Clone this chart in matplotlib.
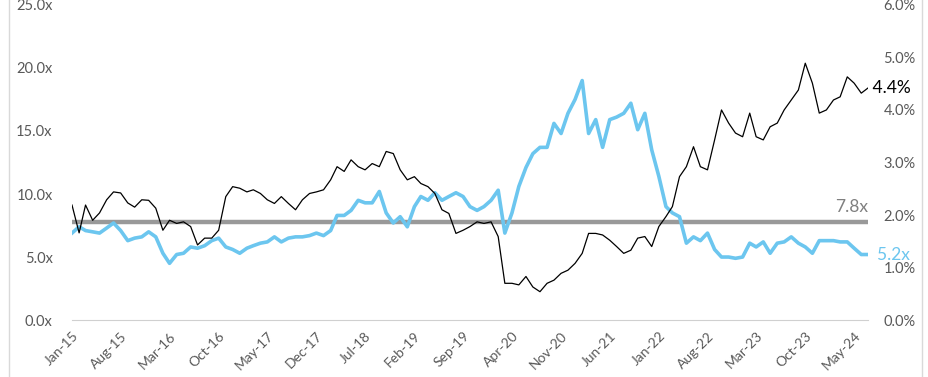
import matplotlib
matplotlib.use("Agg")
import matplotlib.pyplot as plt
from matplotlib.lines import Line2D
import pandas as pd

plt.rcParams['font.family'] = ['Lato', 'DejaVu Sans']

# monthly points, Jan-15 .. Jul-24
months = pd.date_range("2015-01-01", periods=115, freq="MS")

# light blue series, left axis (x multiple)
multiple = [
    6.9, 7.4, 7.1, 7.0, 6.9, 7.3, 7.7, 7.1, 6.3, 6.5, 6.6, 7.0,   # 2015
    6.6, 5.3, 4.5, 5.2, 5.3, 5.8, 5.7, 5.9, 6.3, 6.5, 5.8, 5.6,   # 2016
    5.3, 5.7, 5.9, 6.1, 6.2, 6.6, 6.2, 6.5, 6.6, 6.6, 6.7, 6.9,   # 2017
    6.7, 7.1, 8.3, 8.3, 8.7, 9.5, 9.3, 9.3, 10.2, 8.5, 7.7, 8.2,  # 2018
    7.4, 9.0, 9.8, 9.5, 10.1, 9.5, 9.8, 10.1, 9.8, 9.0, 8.7, 9.0, # 2019
    9.5, 10.3, 6.9, 8.5, 10.6, 12.1, 13.2, 13.7, 13.7, 15.6, 14.8, 16.4,  # 2020
    17.5, 19.0, 14.8, 15.9, 13.7, 15.9, 16.1, 16.4, 17.2, 15.1, 16.4, 13.5,  # 2021
    11.4, 9.0, 8.5, 8.2, 6.1, 6.6, 6.3, 6.9, 5.6, 5.0, 5.0, 4.9,  # 2022
    5.0, 6.1, 5.8, 6.2, 5.3, 6.1, 6.2, 6.6, 6.1, 5.8, 5.3, 6.3,   # 2023
    6.3, 6.3, 6.2, 6.2, 5.7, 5.2, 5.2,                            # 2024
]

# black series, right axis (%)
yield_pct = [
    2.19, 1.66, 2.19, 1.90, 2.04, 2.29, 2.44, 2.42, 2.23, 2.15, 2.29, 2.28,  # 2015
    2.13, 1.71, 1.90, 1.84, 1.87, 1.78, 1.43, 1.56, 1.56, 1.71, 2.35, 2.54,  # 2016
    2.51, 2.44, 2.48, 2.41, 2.29, 2.22, 2.35, 2.22, 2.10, 2.29, 2.41, 2.44,  # 2017
    2.48, 2.67, 2.92, 2.83, 3.05, 2.92, 2.86, 2.98, 2.92, 3.21, 3.17, 2.86,  # 2018
    2.67, 2.73, 2.60, 2.54, 2.41, 2.10, 2.03, 1.65, 1.71, 1.78, 1.87, 1.84,  # 2019
    1.87, 1.59, 0.70, 0.70, 0.67, 0.83, 0.63, 0.54, 0.70, 0.76, 0.89, 0.95,  # 2020
    1.08, 1.27, 1.65, 1.65, 1.62, 1.52, 1.40, 1.27, 1.33, 1.56, 1.59, 1.40,  # 2021
    1.78, 1.97, 2.16, 2.73, 2.92, 3.30, 2.92, 2.86, 3.43, 4.00, 3.75, 3.56,  # 2022
    3.49, 3.94, 3.49, 3.43, 3.68, 3.75, 4.00, 4.19, 4.38, 4.89, 4.51, 3.94,  # 2023
    4.00, 4.19, 4.25, 4.63, 4.51, 4.32, 4.42,                                # 2024
]

average_multiple = 7.8

tick_labels = ["Jan-15", "Aug-15", "Mar-16", "Oct-16", "May-17", "Dec-17",
               "Jul-18", "Feb-19", "Sep-19", "Apr-20", "Nov-20", "Jun-21",
               "Jan-22", "Aug-22", "Mar-23", "Oct-23", "May-24"]

blue = "#6cc6ef"
grey_txt = "#595959"

fig = plt.figure(figsize=(9.29, 3.77), dpi=100)
ax = fig.add_axes([0.0775, 0.151, 0.857, 0.836])
ax2 = ax.twinx()

ax.plot(months, [average_multiple] * len(months), color="#999999", lw=3.2, zorder=1)
ax.plot(months, multiple, color=blue, lw=2.6, zorder=2)
ax2.plot(months, yield_pct, color="black", lw=0.9, zorder=3)

ax.set_ylim(0, 25)
ax2.set_ylim(0, 6)
ax.set_xlim(months[0], months[-1])
ax.set_yticks([0, 5, 10, 15, 20, 25])
ax.set_yticklabels([f"{v:.1f}x" for v in [0, 5, 10, 15, 20, 25]])
ax2.set_yticks([0, 1, 2, 3, 4, 5, 6])
ax2.set_yticklabels([f"{v:.1f}%" for v in [0, 1, 2, 3, 4, 5, 6]])

tick_pos = [pd.to_datetime(t, format="%b-%y") for t in tick_labels]
ax.set_xticks(tick_pos)
ax.set_xticklabels(tick_labels, rotation=45, ha="right", rotation_mode="anchor")

for a in (ax, ax2):
    for s in a.spines.values():
        s.set_visible(False)
    a.tick_params(length=0, labelsize=10.5, colors=grey_txt)
ax.tick_params(axis="y", pad=14)
ax2.tick_params(axis="y", pad=11)
ax.tick_params(axis="x", pad=7, labelsize=10)
ax.spines["bottom"].set_visible(True)
ax.spines["bottom"].set_color("#d0d0d0")

ax.text(months[-1], average_multiple + 0.5, f"{average_multiple}x", color="#7f7f7f",
        fontsize=12.5, ha="right", va="bottom")
ax.text(months[-1], multiple[-1], f"  {multiple[-1]}x", color=blue,
        fontsize=12.5, ha="left", va="center")
ax2.text(months[-1], yield_pct[-1], f" {yield_pct[-1]:.1f}%", color="black",
         fontsize=12.5, ha="left", va="center")

# outer frame edges
fig.add_artist(Line2D([0.0097, 0.0097], [0, 1], color="#d9d9d9", lw=1))
fig.add_artist(Line2D([0.9925, 0.9925], [0, 1], color="#d9d9d9", lw=1))

fig.savefig("out.png", dpi=100)
